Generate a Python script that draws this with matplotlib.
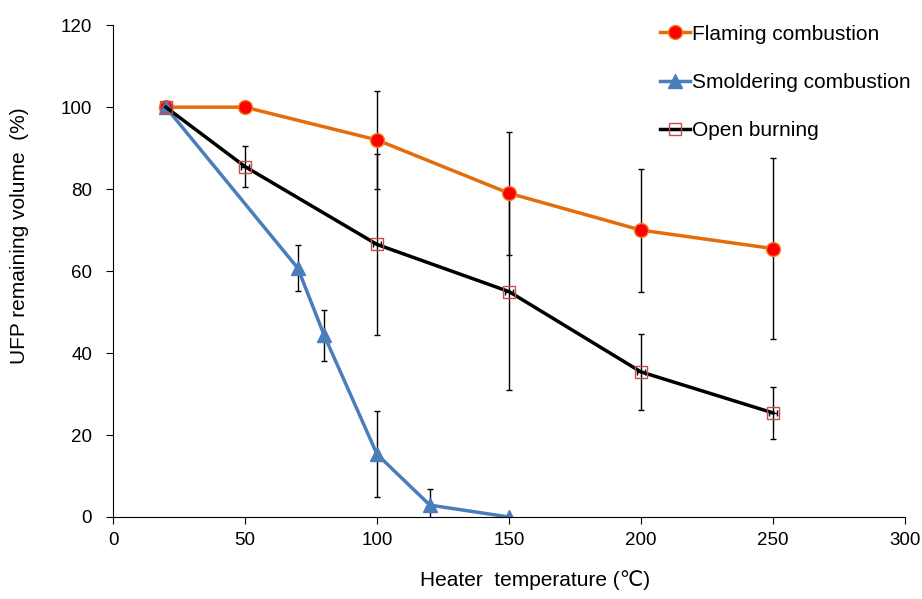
import matplotlib.pyplot as plt
from matplotlib.lines import Line2D

plt.rcParams['font.family'] = ['Liberation Sans', 'DejaVu Sans']

# data
flaming_x = [20, 50, 100, 150, 200, 250]
flaming_y = [100, 100, 92, 79, 70, 65.5]
flaming_err = [0, 0, 12, 15, 15, 22]

smolder_x = [20, 70, 80, 100, 120, 150]
smolder_y = [100, 60.7, 44.3, 15.3, 2.9, 0]
smolder_err = [0, 5.6, 6.2, 10.5, 4, 0]

open_x = [20, 50, 100, 150, 200, 250]
open_y = [100, 85.5, 66.5, 55, 35.4, 25.4]
open_err = [0, 5, 22, 24, 9.3, 6.3]
open_xerr = [0, 1.5, 1.5, 1.5, 1.5, 1.5]

labels = ['Flaming combustion', 'Smoldering combustion', 'Open burning']

fig = plt.figure(figsize=(9.22, 5.99), dpi=100)
ax = fig.add_axes([0.1226, 0.1369, 0.859, 0.821])

ebkw = dict(ecolor='black', elinewidth=1.0, capsize=2.5, capthick=1.0)
flam_style = dict(color='#E46C0A', lw=2.5, marker='o', ms=10,
                  mfc='#FF0000', mec='#F08020', mew=1)
smol_style = dict(color='#4A7EBB', lw=2.5, marker='^', ms=10,
                  mfc='#4A7EBB', mec='#4A7EBB')
open_style = dict(color='black', lw=2.5, marker='s', ms=9,
                  mfc='none', mec='#C0504D', mew=1)

ax.errorbar(flaming_x, flaming_y, yerr=flaming_err, **flam_style, **ebkw)
ax.errorbar(smolder_x, smolder_y, yerr=smolder_err, **smol_style, **ebkw)
ax.errorbar(open_x, open_y, yerr=open_err, xerr=open_xerr, **open_style, **ebkw)

ax.set_xlim(0, 300)
ax.set_ylim(0, 120)
ax.set_xticks(range(0, 301, 50))
ax.set_yticks(range(0, 121, 20))
ax.spines['top'].set_visible(False)
ax.spines['right'].set_visible(False)
ax.tick_params(direction='out', length=5, labelsize=13.5)
ax.tick_params(axis='y', pad=10)
ax.tick_params(axis='x', pad=6)

ax.set_xlabel('Heater  temperature (℃)', fontsize=15)
ax.xaxis.set_label_coords(0.533, -0.108)
ax.set_ylabel('UFP remaining volume  (%)', fontsize=15)
ax.yaxis.set_label_coords(-0.106, 0.573)

handles = [Line2D([], [], **flam_style), Line2D([], [], **smol_style),
           Line2D([], [], **open_style)]
fig.legend(handles, labels, loc='upper left', bbox_to_anchor=(0.696, 0.99),
           frameon=False, fontsize=15, handlelength=1.4, handletextpad=0.1,
           labelspacing=1.4)

fig.savefig('out.png', dpi=100)
